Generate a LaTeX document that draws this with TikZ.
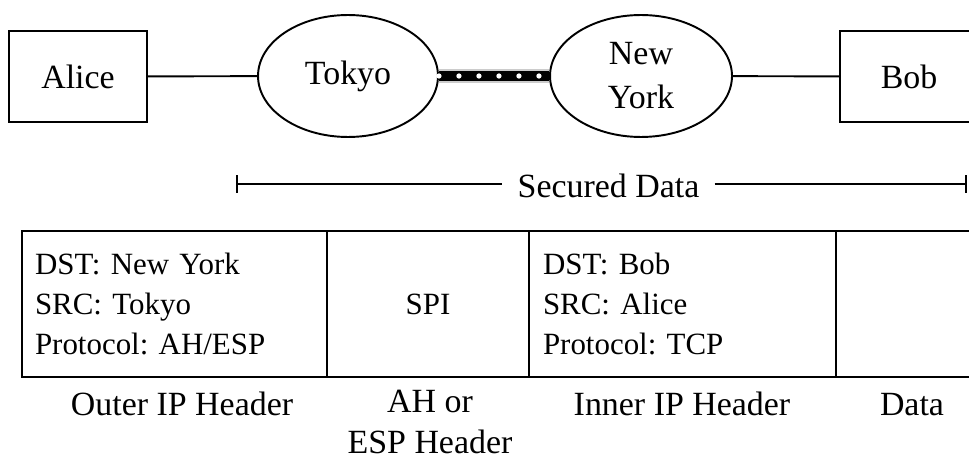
\documentclass[tikz,border=0pt]{standalone}
\usepackage{fontspec}
\setmainfont{Liberation Serif}
\usetikzlibrary{arrows.meta,shapes.geometric}
\frenchspacing

\tikzset{
  host/.style={draw, line width=1.1pt, minimum width=2.76cm, minimum height=1.82cm, inner sep=0pt, font=\fontsize{19.3}{25}\selectfont},
  gateway/.style={draw, ellipse, line width=1.1pt, minimum height=2.44cm, inner sep=0pt, align=center, font=\fontsize{19.3}{25}\selectfont},
  cell/.style={draw, line width=1.1pt, minimum height=2.92cm, inner sep=0pt, font=\fontsize{17.6}{22.7}\selectfont},
  caption/.style={anchor=base, align=center, font=\fontsize{19.3}{23.2}\selectfont},
  link/.style={line width=1.1pt, black},
}

\begin{document}
\begin{tikzpicture}[x=0.02cm, y=-0.02cm]
    \clip (0,0) rectangle (969,459);

    % Hosts and gateways
    \node[host] (alice) at (78,76.5) {Alice};
    \node[gateway, minimum width=3.6cm] (tokyo) at (348,76) {Tokyo};
    \node[gateway, minimum width=3.64cm] (newyork) at (641,76) {New\\York};
    \node[host] (bob) at (909,76.5) {Bob};

    \draw[link] (alice) -- (tokyo);
    \draw[link] (newyork) -- (bob);

    % Tunnel
    \draw[gray!40, line width=7.5pt] (tokyo) -- (newyork);
    \draw[black, line width=6pt] (tokyo) -- (newyork);
    \draw[white, line width=3pt, line cap=round, dash pattern=on 0pt off 0.4cm] (tokyo) -- (newyork);

    % Secured part
    \node[caption, anchor=center, inner xsep=8.5pt] (secured) at (608.5,186) {Secured Data};
    \coordinate (sdleft) at (236,184);
    \coordinate (sdright) at (967,184);
    \draw[link, {Bar[width=10pt]}-] (sdleft) -- (sdleft -| secured.west);
    \draw[link, -{Bar[width=10pt]}] (sdright -| secured.east) -- (sdright);

    % Packet layout
    \node[cell, text width=5.58cm, inner xsep=0.26cm, align=left] (outer) at (174.5,304) {DST: New York\\SRC: Tokyo\\Protocol: AH/ESP};
    \node[cell, minimum width=4.04cm] (ah) at (428,304) {SPI};
    \node[cell, text width=5.58cm, inner xsep=0.28cm, align=left] (inner) at (682.5,304) {DST: Bob\\SRC: Alice\\Protocol: TCP};
    \node[cell, minimum width=3.04cm] (data) at (912,304) {};

    \node[caption] (outerlabel) at (182,415) {Outer IP Header};
    \node[caption] (ahlabel) at (430,453) {AH or\\ESP Header};
    \node[caption] (innerlabel) at (682,415) {Inner IP Header};
    \node[caption] (datalabel) at (912,415) {Data};
\end{tikzpicture}
\end{document}
